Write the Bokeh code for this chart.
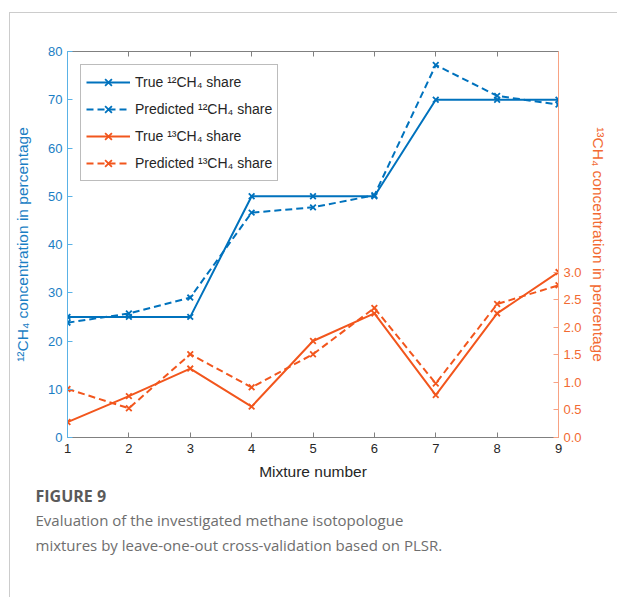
from bokeh.plotting import figure
from bokeh.layouts import column
from bokeh.models import (Range1d, LinearAxis, FixedTicker, NumeralTickFormatter,
                          Legend, LegendItem, Title)
from bokeh.embed import file_html
from bokeh.resources import INLINE

# ---- data ----
mixture = [1, 2, 3, 4, 5, 6, 7, 8, 9]
true_12 = [25, 25, 25, 50, 50, 50, 70, 70, 70]
pred_12 = [23.8, 25.7, 29.0, 46.6, 47.7, 50.2, 77.2, 70.8, 69.0]
true_13 = [0.28, 0.75, 1.25, 0.56, 1.75, 2.25, 0.77, 2.25, 3.0]
pred_13 = [0.88, 0.53, 1.51, 0.91, 1.51, 2.35, 0.98, 2.42, 2.76]
left_ticks = [0, 10, 20, 30, 40, 50, 60, 70, 80]
right_ticks = [0, 0.5, 1.0, 1.5, 2.0, 2.5, 3.0]
caption_title = "FIGURE 9"
caption_lines = ["Evaluation of the investigated methane isotopologue",
                 "mixtures by leave-one-out cross-validation based on PLSR."]

BLUE = "#0072BD"
ORANGE = "#F2561D"
FONT = "Liberation Sans"
CW, CHT = 607, 584      # content size inside the card border
BL, BR, BT, BB = 57, 59, 38, 160

p = figure(width=CW, height=CHT, x_range=Range1d(1, 9), y_range=Range1d(0, 80),
           output_backend="svg", toolbar_location=None,
           min_border_left=BL, min_border_right=BR, min_border_top=BT, min_border_bottom=BB)
p.extra_y_ranges = {"r": Range1d(0, 7)}
p.xgrid.visible = False
p.ygrid.visible = False
p.outline_line_color = None
p.background_fill_color = "white"
p.border_fill_color = "white"

def style_axis(ax, line_color, label_color):
    ax.axis_line_color = line_color
    ax.major_tick_line_color = line_color
    ax.major_tick_in = 5
    ax.major_tick_out = 0
    ax.minor_tick_line_color = None
    ax.major_label_text_font = FONT
    ax.major_label_text_font_size = "13px"
    ax.major_label_text_color = label_color
    ax.axis_label_text_font = FONT
    ax.axis_label_text_font_style = "normal"
    ax.axis_label_text_font_size = "15.5px"

# bottom axis
xa = p.xaxis[0]
xa.ticker = FixedTicker(ticks=mixture)
style_axis(xa, "#808080", "#262626")
xa.axis_label = "Mixture number"
xa.axis_label_text_color = "#262626"
xa.axis_label_standoff = 7
xa.major_label_standoff = 6

# left axis
ya = p.yaxis[0]
ya.ticker = FixedTicker(ticks=left_ticks)
style_axis(ya, "#5AB2E6", "#1A7EC4")
ya.axis_label = "¹²CH₄ concentration in percentage"
ya.axis_label_text_color = "#1A7EC4"
ya.axis_label_standoff = 14
ya.major_label_standoff = 5

# top axis (box edge, no labels)
top = LinearAxis(ticker=FixedTicker(ticks=mixture))
style_axis(top, "#808080", None)
top.major_label_text_font_size = "0px"
p.add_layout(top, "above")

# right axis
ra = LinearAxis(y_range_name="r", ticker=FixedTicker(ticks=right_ticks),
                formatter=NumeralTickFormatter(format="0.0"))
style_axis(ra, "#F8A283", "#F26A32")
ra.axis_label = "¹³CH₄ concentration in percentage"
ra.axis_label_text_color = "#F26A32"
ra.major_label_standoff = 5
p.add_layout(ra, "right")

# series
l1 = p.line(mixture, true_12, color=BLUE, line_width=2)
s1 = p.scatter(mixture, true_12, marker="x", size=8, line_color=BLUE, line_width=1.8)
l2 = p.line(mixture, pred_12, color=BLUE, line_width=2, line_dash="7 4")
s2 = p.scatter(mixture, pred_12, marker="x", size=8, line_color=BLUE, line_width=1.8)
l3 = p.line(mixture, true_13, color=ORANGE, line_width=2, y_range_name="r")
s3 = p.scatter(mixture, true_13, marker="x", size=8, line_color=ORANGE, line_width=1.8, y_range_name="r")
l4 = p.line(mixture, pred_13, color=ORANGE, line_width=2, line_dash="7 4", y_range_name="r")
s4 = p.scatter(mixture, pred_13, marker="x", size=8, line_color=ORANGE, line_width=1.8, y_range_name="r")

legend = Legend(items=[
    LegendItem(label="True ¹²CH₄ share", renderers=[l1, s1]),
    LegendItem(label="Predicted ¹²CH₄ share", renderers=[l2, s2]),
    LegendItem(label="True ¹³CH₄ share", renderers=[l3, s3]),
    LegendItem(label="Predicted ¹³CH₄ share", renderers=[l4, s4]),
], location="top_left")
legend.margin = 13
legend.padding = 5
legend.spacing = 3
legend.label_height = 24
legend.glyph_height = 24
legend.glyph_width = 44
legend.label_text_font = FONT
legend.label_text_font_size = "14px"
legend.label_text_color = "#262626"
legend.border_line_color = "#7a7a7a"
legend.border_line_width = 1
legend.background_fill_alpha = 1
p.add_layout(legend)

# caption as titles below the x axis (first an invisible spacer)
OFF = 25 - BL
p.add_layout(Title(text="\u00a0", standoff=10, text_font=FONT, text_font_size="10px",
                   text_color="white", text_alpha=0), "below")
p.add_layout(Title(text=caption_title, align="left", offset=OFF, standoff=0,
                   text_font="Open Sans", text_font_style="bold", text_font_size="16px",
                   text_color="#5a5a5a"), "below")
for line, so in zip(caption_lines, [2, 4]):
    p.add_layout(Title(text=line, align="left", offset=OFF, standoff=so,
                       text_font="Open Sans", text_font_style="normal", text_font_size="15px",
                       text_color="#6e6e6e"), "below")

layout = column(p, spacing=0,
                styles={"border-left": "1px solid #cccccc",
                        "border-top": "1px solid #cccccc",
                        "margin-left": "9px", "margin-top": "12px"})

open("out.html", "w").write(file_html(layout, INLINE))
